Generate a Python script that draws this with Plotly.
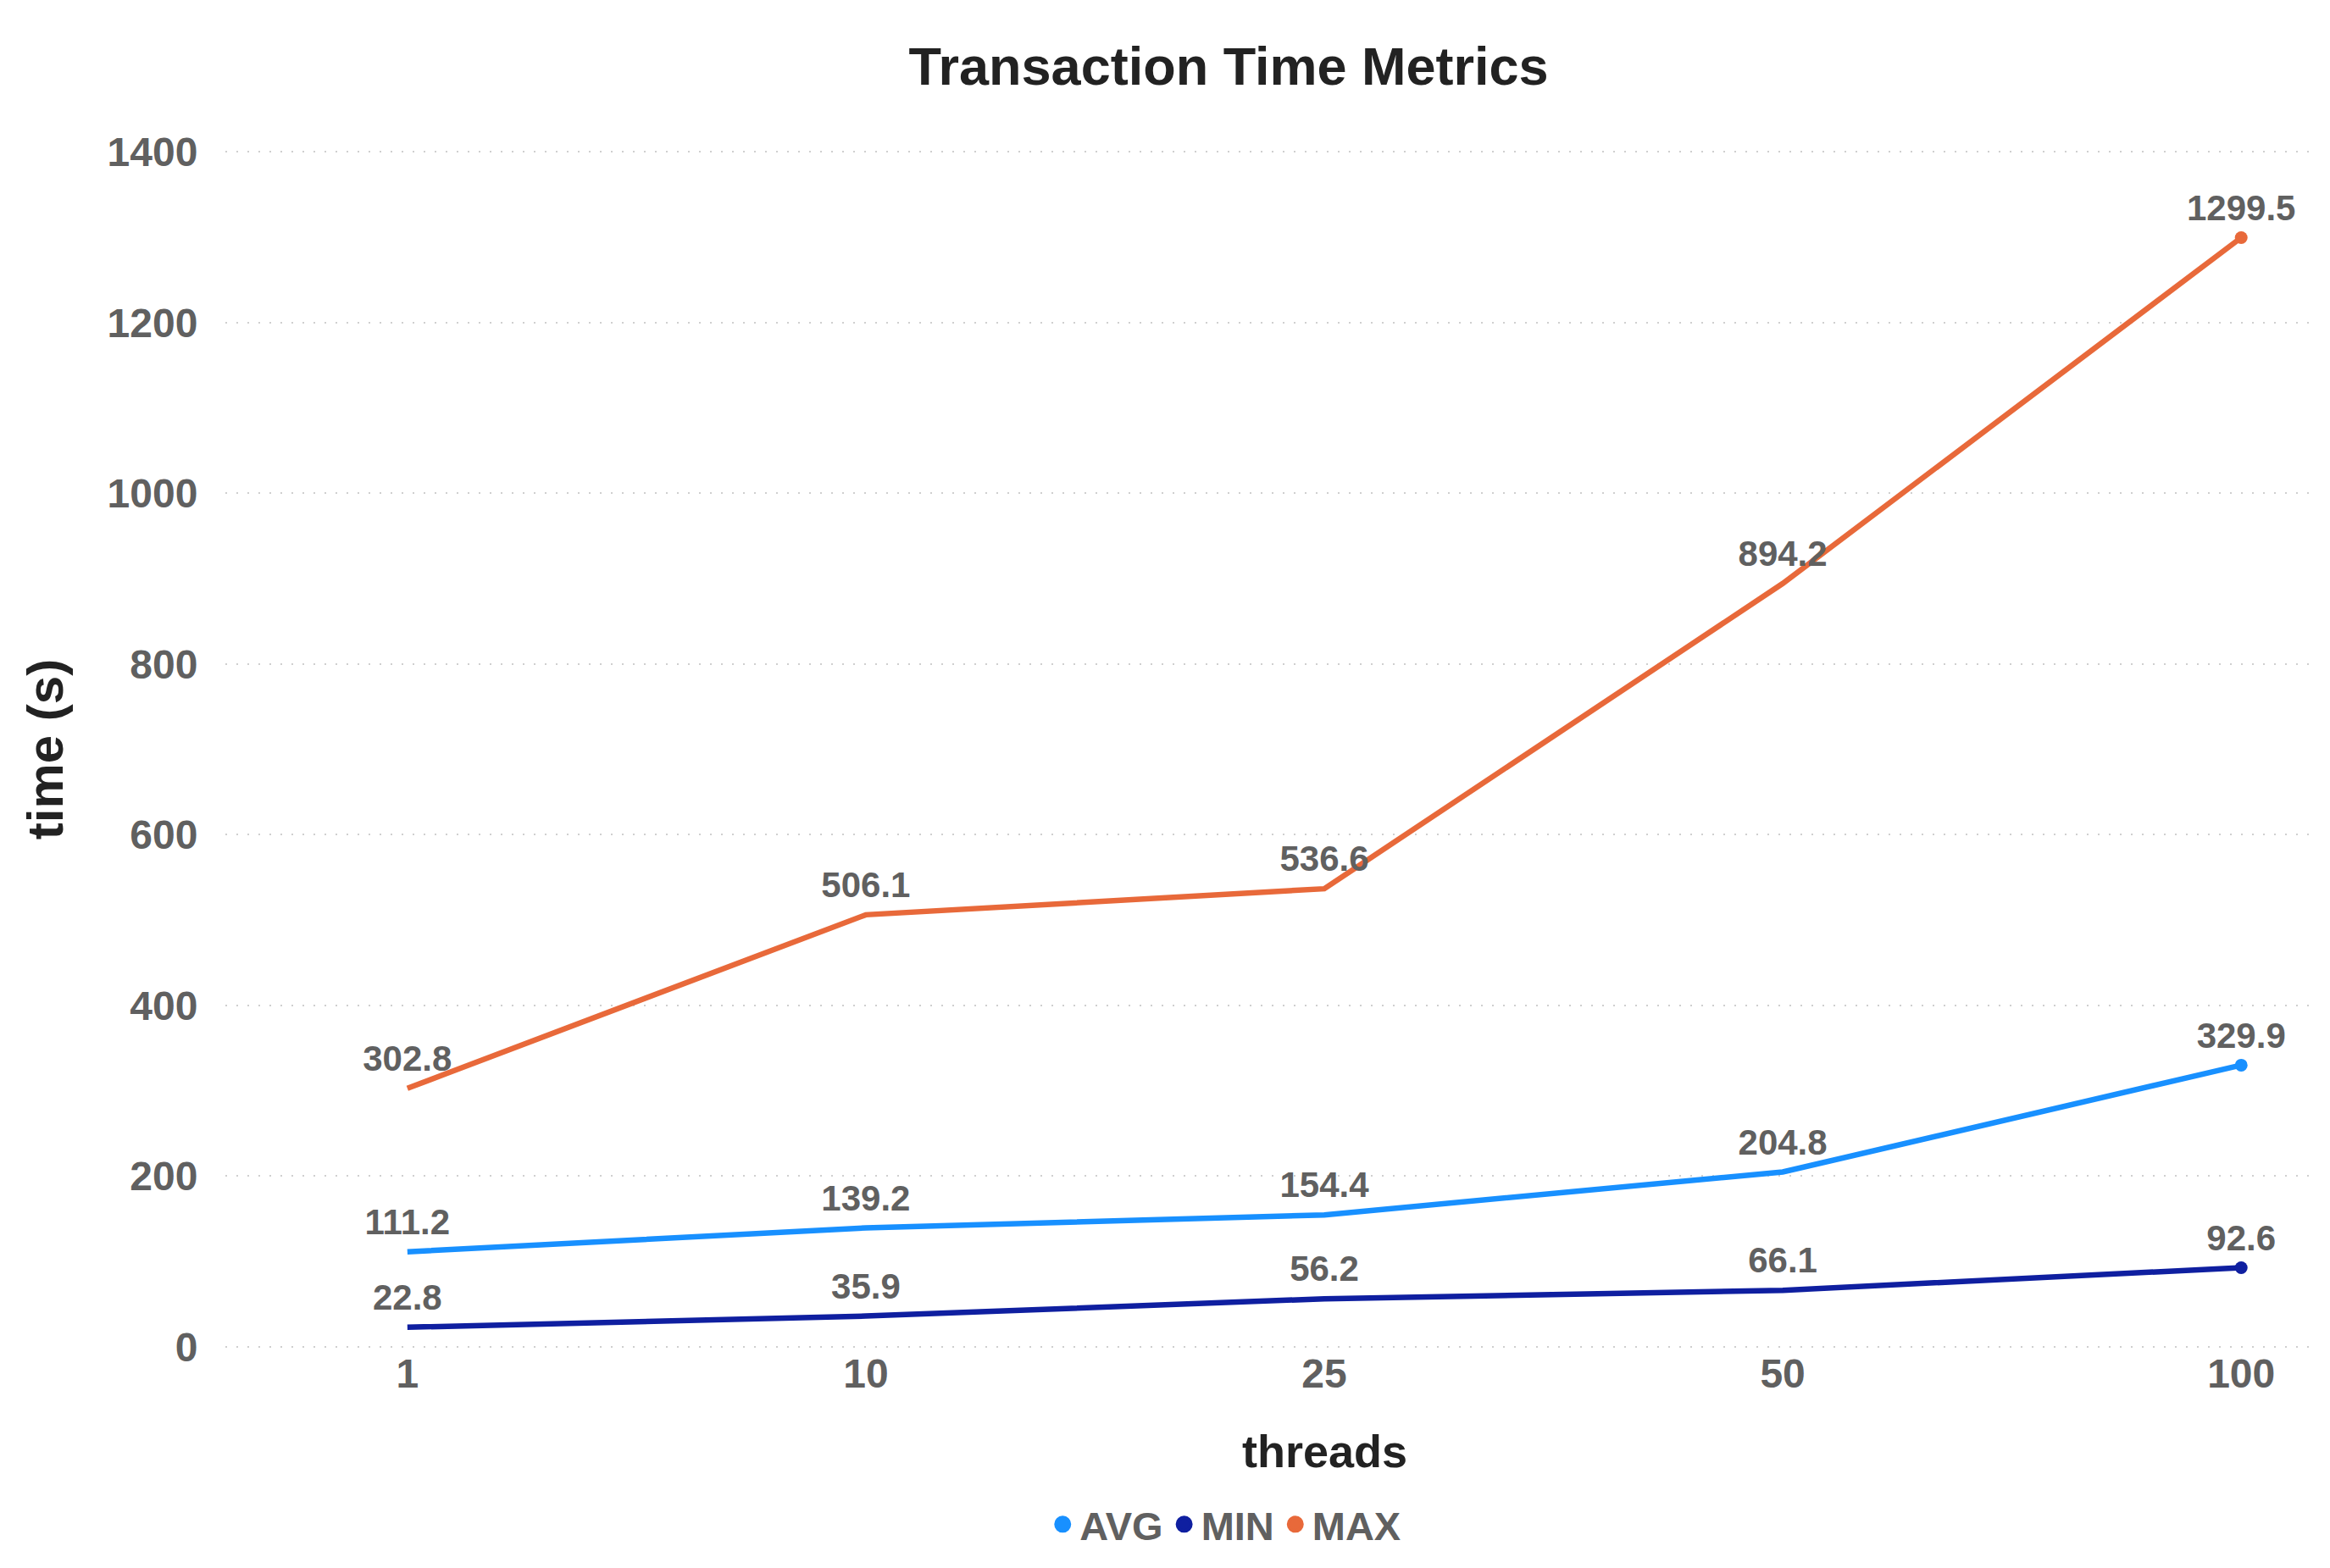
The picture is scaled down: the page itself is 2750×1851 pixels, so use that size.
import plotly.graph_objects as go

threads = ["1", "10", "25", "50", "100"]
avg_vals = [111.2, 139.2, 154.4, 204.8, 329.9]
min_vals = [22.8, 35.9, 56.2, 66.1, 92.6]
max_vals = [302.8, 506.1, 536.6, 894.2, 1299.5]
series_names = ["AVG", "MIN", "MAX"]
y_ticks = [0, 200, 400, 600, 800, 1000, 1200, 1400]

colors = {"AVG": "#1890FF", "MIN": "#0F1FA0", "MAX": "#E8693A"}
FONT = "Liberation Sans, Arial, sans-serif"
TICK_COLOR = "#606060"

fig = go.Figure()
series = {"AVG": avg_vals, "MIN": min_vals, "MAX": max_vals}
n = len(threads)
for name in series_names:
    vals = series[name]
    fig.add_trace(go.Scatter(
        x=threads, y=vals, name=name, mode="lines+markers+text",
        line=dict(color=colors[name], width=6.5),
        marker=dict(size=15, color=colors[name],
                    opacity=[0] * (n - 1) + [1]),
        text=[f"{v:.1f}" for v in vals],
        textposition="top center",
        textfont=dict(family=FONT, size=42, color=TICK_COLOR, weight=700),
        cliponaxis=False, showlegend=False,
    ))
# legend entries (dots only)
for name in series_names:
    fig.add_trace(go.Scatter(
        x=[None], y=[None], name=name, mode="markers",
        marker=dict(size=16, color=colors[name],
                    line=dict(color=colors[name], width=4)),
        showlegend=True,
    ))

fig.update_layout(
    width=2750, height=1851,
    paper_bgcolor="white", plot_bgcolor="white",
    margin=dict(l=258, r=30, t=170, b=268, autoexpand=False),
    title=dict(text="Transaction Time Metrics", x=0.5244, xanchor="center",
               y=0.962, yanchor="middle", xref="container", yref="container",
               font=dict(family=FONT, size=63, color="#222222", weight=700)),
    font=dict(family=FONT, weight=700),
    xaxis=dict(type="category", range=[-0.397, 4.153],
               showgrid=False, zeroline=False, showline=False,
               ticks="", ticklabelstandoff=-2,
               tickfont=dict(family=FONT, size=48, color=TICK_COLOR, weight=700)),
    yaxis=dict(range=[-1.2, 1401.2], tickvals=y_ticks,
               showgrid=True, gridcolor="#cfcfcf", gridwidth=2, griddash="2px,11px",
               zeroline=False, showline=False,
               ticks="outside", ticklen=22, tickcolor="rgba(0,0,0,0)",
               tickfont=dict(family=FONT, size=48, color=TICK_COLOR, weight=700),
               title=dict(text="time (s)", standoff=32,
                          font=dict(family=FONT, size=60, color="#222222", weight=700))),
    legend=dict(orientation="h", x=0.523, xanchor="center", y=0.032, yanchor="middle",
                xref="container", yref="container",
                font=dict(family=FONT, size=47, color=TICK_COLOR, weight=700),
                itemwidth=30, tracegroupgap=0,
                bgcolor="rgba(0,0,0,0)"),
    annotations=[dict(text="threads", x=2, xref="x", y=0, yref="paper",
                      xanchor="center", yanchor="middle", showarrow=False,
                      font=dict(family=FONT, size=54, color="#222222", weight=700))],
)
# place axis title annotation in paper coords relative to plot area
plot_top, plot_bottom = 170, 1851 - 268
fig.layout.annotations[0].y = (plot_bottom - 1705) / (plot_bottom - plot_top)

fig.write_html("out.html")
